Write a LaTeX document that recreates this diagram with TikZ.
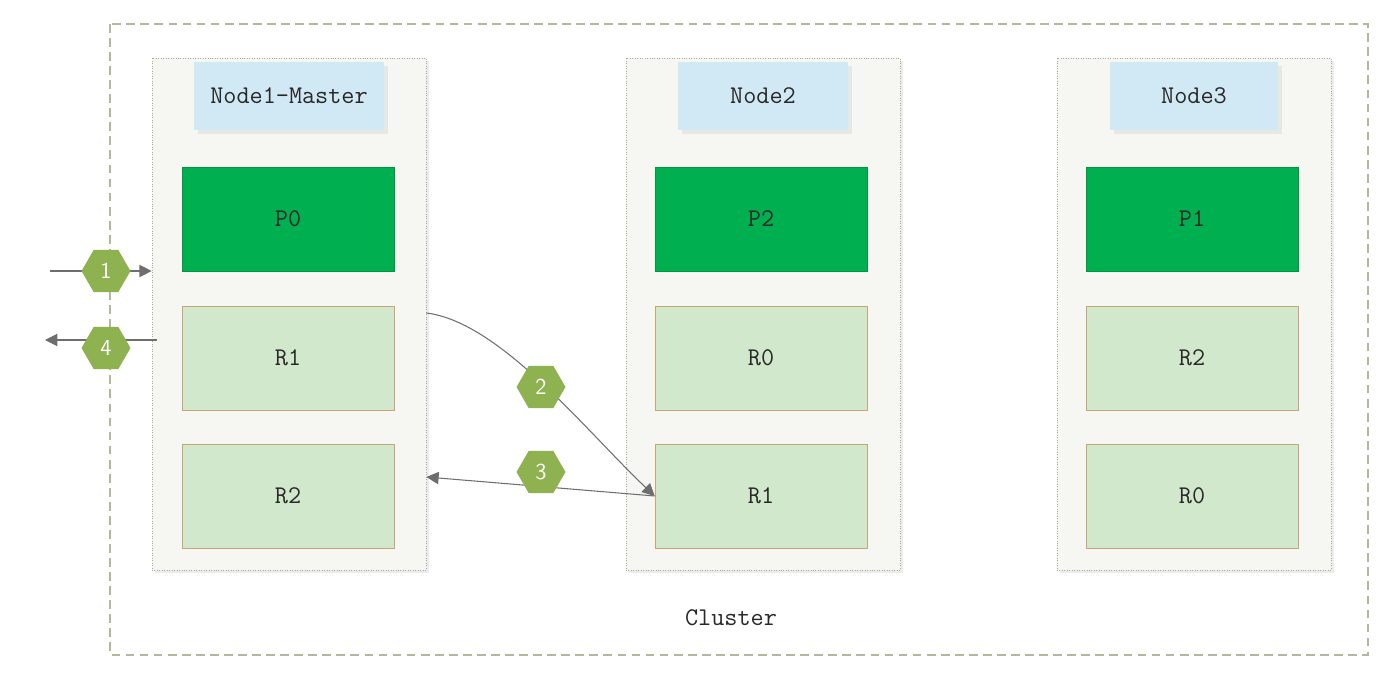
\documentclass[tikz,border=0pt]{standalone}
\usepackage{fontspec}
\usetikzlibrary{shapes.geometric,arrows.meta,shadows}

\tikzset{
  colbox/.style={shape=rectangle,draw=colline,densely dotted,fill=colfill,minimum width=5.48cm,minimum height=10.24cm,
    drop shadow={shadow xshift=0.06cm,shadow yshift=-0.06cm,fill=black!12,opacity=0.6}},
  headbox/.style={shape=rectangle,fill=headfill,minimum height=1.36cm,font=\ttfamily\fontsize{14.5}{16}\selectfont,text=txtgray,
    drop shadow={shadow xshift=0.08cm,shadow yshift=-0.08cm,fill=black!15,opacity=0.5}},
  pribox/.style={shape=rectangle,draw=prifill!85!black,fill=prifill,minimum width=4.24cm,minimum height=2.08cm,font=\ttfamily\fontsize{14.5}{16}\selectfont,text=txtgray},
  repbox/.style={shape=rectangle,draw=repline,fill=repfill,minimum width=4.24cm,minimum height=2.08cm,font=\ttfamily\fontsize{14.5}{16}\selectfont,text=txtgray},
  stephex/.style={shape=regular polygon,regular polygon sides=6,fill=hexfill,minimum size=0.98cm,inner sep=0pt,text=white,font=\sffamily\fontsize{13}{15}\selectfont},
  arr/.style={draw=arrgray,line width=0.6pt,-{Triangle[length=7pt,width=7pt]}},
}

\begin{document}
\begin{tikzpicture}[x=0.02cm,y=-0.02cm]
    \definecolor{clusline}{RGB}{178,184,156}
    \definecolor{colline}{RGB}{170,170,150}
    \definecolor{colfill}{RGB}{246,247,243}
    \definecolor{headfill}{RGB}{208,233,245}
    \definecolor{prifill}{RGB}{0,176,80}
    \definecolor{repfill}{RGB}{209,232,204}
    \definecolor{repline}{RGB}{200,165,115}
    \definecolor{hexfill}{RGB}{143,178,80}
    \definecolor{arrgray}{RGB}{110,110,110}
    \definecolor{txtgray}{RGB}{40,40,40}
    \useasboundingbox (0,0) rectangle (1400,692);
    % cluster
    \draw[clusline,line width=0.8pt,dash pattern=on 5pt off 3pt] (110,24) rectangle (1368,655);
    \node[font=\ttfamily\fontsize{14.5}{16}\selectfont,text=txtgray] (cluster) at (731,618) {Cluster};
    % columns
    \node[colbox] (col1) at (289,314) {};
    \node[colbox] (col2) at (763,314) {};
    \node[colbox] (col3) at (1194,314) {};
    \node[headbox,minimum width=3.8cm] (head1) at (289,96) {Node1-Master};
    \node[headbox,minimum width=3.4cm] (head2) at (763,96) {Node2};
    \node[headbox,minimum width=3.36cm] (head3) at (1194,96) {Node3};
    % shards
    \node[pribox] (p0) at (288,219) {P0};
    \node[repbox] (r1a) at (288,358) {R1};
    \node[repbox] (r2a) at (288,496) {R2};
    \node[pribox] (p2) at (761,219) {P2};
    \node[repbox] (r0b) at (761,358) {R0};
    \node[repbox] (r1b) at (761,496) {R1};
    \node[pribox] (p1) at (1192,219) {P1};
    \node[repbox] (r2c) at (1192,358) {R2};
    \node[repbox] (r0c) at (1192,496) {R0};
    % requests
    \coordinate (req) at (50,271);
    \coordinate (resp) at (45,340);
    \draw[arr] (req) -- (col1.west |- req);
    \draw[arr] ([xshift=0.1cm]col1.west |- resp) -- (resp);
    \draw[arr] (col1.east |- 0,313) .. controls (500,322) and (585,430) .. (r1b.west);
    \draw[arr,{Triangle[length=7pt,width=7pt]}-] (col1.east |- 0,477) -- (r1b.west);
    \node[stephex] (s1) at (106,271) {1};
    \node[stephex] (s4) at (106,348) {4};
    \node[stephex] (s2) at (541,387) {2};
    \node[stephex] (s3) at (541,472) {3};
\end{tikzpicture}
\end{document}
